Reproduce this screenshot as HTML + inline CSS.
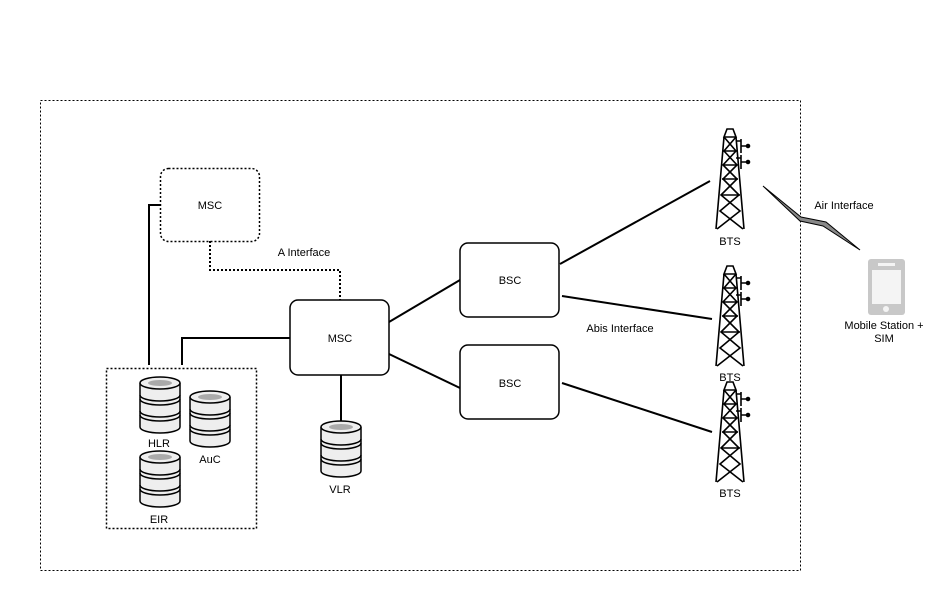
<!DOCTYPE html>
<html><head><style>body{margin:0;background:#fff}svg{display:block}text{font-family:"Liberation Sans",sans-serif;font-size:11px;fill:#000}</style></head>
<body>
<svg width="952" height="590" viewBox="0 0 952 590" xmlns="http://www.w3.org/2000/svg">
<defs>
<g id="db">
<path d="M0,6 v44 a20,6 0 0 0 40,0 v-44" fill="#eee" stroke="#000" stroke-width="1.5"/>
<ellipse cx="20" cy="6" rx="20" ry="6" fill="#eee" stroke="#000" stroke-width="1.5"/>
<ellipse cx="20" cy="6" rx="12" ry="3" fill="#aaa"/>
<path d="M0,18 a20,6 0 0 0 40,0 M0,22 a20,6 0 0 0 40,0 M0,34 a20,6 0 0 0 40,0 M0,38 a20,6 0 0 0 40,0" fill="none" stroke="#000" stroke-width="1.5"/>
</g>
<g id="tower" fill="none" stroke="#000" stroke-width="1.6">
<path d="M13,0 h6 l3,8 h-12 z"/>
<path d="M10,8 L2,100 M22,8 L30,100"/>
<path d="M10,8 L22,22 L9,36 L23,50 L7,66 L26,82 L3,100 M22,8 L10,22 L23,36 L9,50 L25,66 L6,82 L29,100"/>
<path d="M10,22h12 M9,36h14 M8,50h16 M7,66h19"/>
<path d="M22,12 h5 v10 M27,10 v14 M27,17 h6 M22,29 h5 M27,26 v14 M27,33 h6"/>
<circle cx="34" cy="17" r="1.5" fill="#000"/><circle cx="34" cy="33" r="1.5" fill="#000"/>
</g>
</defs>
<rect x="40.5" y="100.5" width="760" height="470" fill="none" stroke="#000" stroke-dasharray="2,2"/>
<rect x="160.5" y="168.5" width="99" height="73" rx="8" fill="#fff" stroke="#000" stroke-width="1.5" stroke-dasharray="2,2"/>
<text x="210" y="209" text-anchor="middle">MSC</text>
<path d="M149,365 V205 H160" fill="none" stroke="#000" stroke-width="2"/>
<path d="M210,241 V270 H340 V300" fill="none" stroke="#000" stroke-width="2" stroke-dasharray="2,2"/>
<text x="304" y="256" text-anchor="middle">A Interface</text>
<path d="M182,365 V338 H290" fill="none" stroke="#000" stroke-width="2"/>
<rect x="290" y="300" width="99" height="75" rx="8" fill="#fff" stroke="#000" stroke-width="1.5"/>
<text x="340" y="342" text-anchor="middle">MSC</text>
<rect x="106.5" y="368.5" width="150" height="160" fill="none" stroke="#000" stroke-width="1.5" stroke-dasharray="2,2"/>
<use href="#db" x="140" y="377"/><text x="159" y="447" text-anchor="middle">HLR</text>
<use href="#db" x="190" y="391"/><text x="210" y="463" text-anchor="middle">AuC</text>
<use href="#db" x="140" y="451"/><text x="159" y="523" text-anchor="middle">EIR</text>
<path d="M341,375 V421" stroke="#000" stroke-width="2"/>
<use href="#db" x="321" y="421"/><text x="340" y="493" text-anchor="middle">VLR</text>
<rect x="460" y="243" width="99" height="74" rx="8" fill="#fff" stroke="#000" stroke-width="1.5"/>
<text x="510" y="284" text-anchor="middle">BSC</text>
<rect x="460" y="345" width="99" height="74" rx="8" fill="#fff" stroke="#000" stroke-width="1.5"/>
<text x="510" y="387" text-anchor="middle">BSC</text>
<g stroke="#000" stroke-width="2">
<path d="M389,322 L460,280 M389,354 L460,388 M560,264 L710,181 M562,296 L712,319 M562,383 L712,432"/>
</g>
<text x="620" y="332" text-anchor="middle">Abis Interface</text>
<use href="#tower" x="714" y="129"/><text x="730" y="245" text-anchor="middle">BTS</text>
<use href="#tower" x="714" y="266"/><text x="730" y="381" text-anchor="middle">BTS</text>
<use href="#tower" x="714" y="382"/><text x="730" y="497" text-anchor="middle">BTS</text>
<path d="M763,186 L801,217 L826,222 L860,250 L823,226 L800,221 Z" fill="#888" stroke="#000" stroke-width="1"/>
<text x="844" y="209" text-anchor="middle">Air Interface</text>
<rect x="868" y="259" width="37" height="56" rx="3" fill="#c8c8c8"/>
<rect x="872" y="270" width="29" height="34" fill="#f4f4f4"/>
<rect x="878" y="263" width="17" height="3" fill="#f4f4f4"/>
<circle cx="886" cy="309" r="3" fill="#f4f4f4"/>
<text x="884" y="329" text-anchor="middle">Mobile Station +</text>
<text x="884" y="342" text-anchor="middle">SIM</text>
</svg>
</body></html>
